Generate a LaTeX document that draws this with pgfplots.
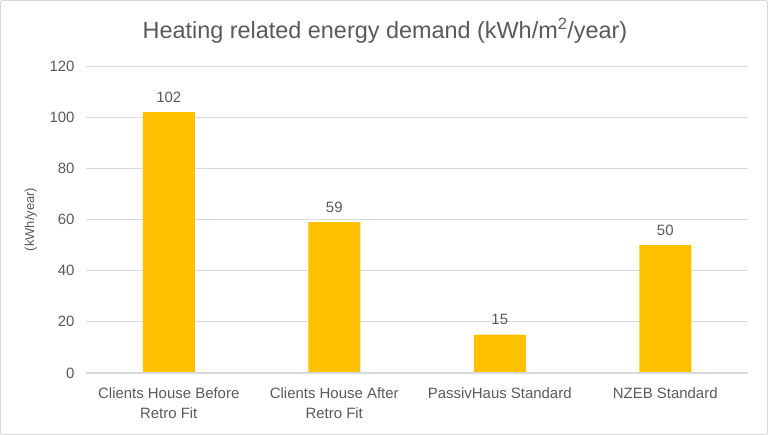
\documentclass[border=0pt]{standalone}
\usepackage{pgfplots}
\pgfplotsset{compat=1.18}
\usepackage{fontspec}
\setmainfont{Liberation Sans}
\definecolor{bargold}{HTML}{FFC000}
\definecolor{txtgray}{HTML}{595959}
\definecolor{gridgray}{HTML}{D9D9D9}
\begin{document}
\begin{tikzpicture}[x=1bp,y=1bp]
\draw[gridgray, line width=1bp, rounded corners=2bp] (0.5,0.5) rectangle (767.5,434.5);
\node[txtgray, font=\fontsize{23.5}{27}\selectfont] at (385,404) {Heating related energy demand (kWh/m\textsuperscript{2}/year)};
\begin{axis}[
    at={(86bp,62bp)}, anchor=south west,
    scale only axis,
    width=662bp, height=307bp,
    xmin=-0.5, xmax=3.5,
    ymin=0, ymax=120,
    ytick={0,20,...,120},
    xtick=data,
    xticklabels={Clients House Before\\Retro Fit, Clients House After\\Retro Fit, PassivHaus Standard, NZEB Standard},
    xticklabel style={align=center, text=txtgray, font=\fontsize{15}{20}\selectfont, yshift=-11bp},
    yticklabel style={text=txtgray, font=\fontsize{15}{17}\selectfont, xshift=-8bp},
    /pgf/number format/assume math mode=true,
    major tick length=0pt,
    axis line style={draw=none},
    tick pos=left,
    ymajorgrids,
    grid style={gridgray, line width=0.8bp},
    ylabel={(kWh/year)},
    every axis y label/.style={at={(ticklabel cs:0.5)}, rotate=90, anchor=south, yshift=6bp, text=txtgray, font=\fontsize{13}{15}\selectfont},
    nodes near coords,
    every node near coord/.append style={text=txtgray, font=\fontsize{15}{17}\selectfont, yshift=6bp},
]
\addplot[ybar, bar width=52bp, fill=bargold, draw=none] coordinates {
    (0,102) (1,59) (2,15) (3,50)
};
\draw[gridgray, line width=1bp] (axis cs:-0.5,0) -- (axis cs:3.5,0);
\end{axis}
\end{tikzpicture}
\end{document}
